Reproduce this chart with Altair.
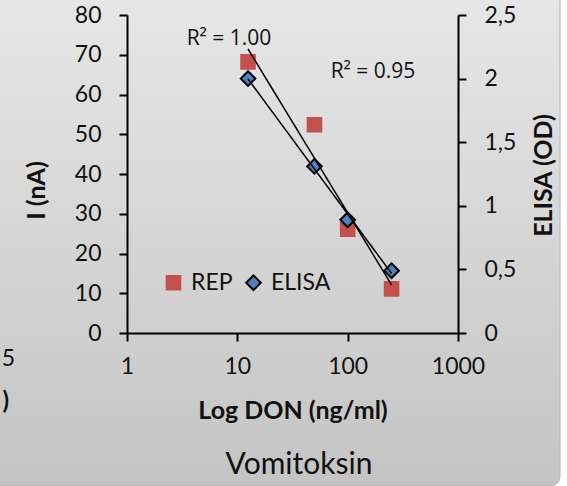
import altair as alt
import numpy as np
import pandas as pd

# DON standards (ng/ml)
don = [12.5, 50, 100, 250]
# REP sensor current (nA), left axis
rep_current = [68.2, 52.4, 26.1, 11.1]
# ELISA optical density, right axis
elisa_od = [2.00, 1.31, 0.89, 0.49]

series_names = ["REP", "ELISA"]
series_fill = ["#c4504d", "#4f81bd"]
series_stroke = ["#c4504d", "#000000"]
series_shape = ["square", "diamond"]
series_size = [185, 215]

x_ticks = [1, 10, 100, 1000]
left_ticks = [0, 10, 20, 30, 40, 50, 60, 70, 80]
right_ticks = [0, 0.5, 1, 1.5, 2, 2.5]

x_title = "Log DON (ng/ml)"
left_title = "I (nA)"
right_title = "ELISA (OD)"
chart_title = "Vomitoksin"

W, H = 331, 318
PAD = {"left": 127, "top": 15, "right": 109, "bottom": 153}
FONT = "Lato"
INK = "#111111"


def r_squared(x, y):
    """R² of a straight-line fit of y against log10(x)."""
    lx = np.log10(np.asarray(x, float))
    y = np.asarray(y, float)
    slope, icpt = np.polyfit(lx, y, 1)
    resid = y - (icpt + slope * lx)
    return 1 - (resid ** 2).sum() / ((y - y.mean()) ** 2).sum()


rep_df = pd.DataFrame({"don": don, "value": rep_current, "series": "REP"})
elisa_df = pd.DataFrame({"don": don, "value": elisa_od, "series": "ELISA"})
one = pd.DataFrame({"k": [0]})

axis_style = dict(
    grid=False, zindex=1, domainColor="black", domainWidth=2,
    tickColor="black", tickWidth=2, tickSize=8,
    labelFont=FONT, labelFontSize=23, labelColor=INK,
    labelFlush=False, labelOverlap=False,
    titleFont=FONT, titleFontSize=25, titleFontWeight="bold", titleColor=INK,
)

x_enc = alt.X(
    "don:Q",
    scale=alt.Scale(type="log", domain=[1, 1000], nice=False),
    axis=alt.Axis(values=x_ticks, format="d", title=x_title, labelPadding=14,
                  titleBaseline="middle", titleY=77, **axis_style),
)

left_scale = alt.Scale(domain=[0, 80], nice=False, zero=True)
right_scale = alt.Scale(domain=[0, 2.5], nice=False, zero=True)

left_axis = alt.Axis(orient="left", values=left_ticks, title=left_title,
                     labelPadding=18, titleAngle=270, titleX=-91, titleY=175,
                     titleAlign="center", titleBaseline="middle", **axis_style)
right_axis = alt.Axis(orient="right", values=right_ticks, title=right_title,
                      labelPadding=18,
                      labelExpr="replace(toString(datum.value), '.', ',')",
                      titleAngle=270, titleX=85, titleY=160,
                      titleAlign="center", titleBaseline="middle", **axis_style)

legend = alt.Legend(
    orient="none", legendX=35, legendY=256, direction="horizontal",
    title=None, padding=0, symbolStrokeWidth=2,
    labelFont=FONT, labelFontSize=23, labelColor=INK,
    labelOffset=6, columnPadding=9,
)
fill_enc = alt.Fill("series:N", scale=alt.Scale(domain=series_names, range=series_fill), legend=legend)
shape_enc = alt.Shape("series:N", scale=alt.Scale(domain=series_names, range=series_shape), legend=legend)
stroke_enc = alt.Stroke("series:N", scale=alt.Scale(domain=series_names, range=series_stroke), legend=legend)
size_enc = alt.Size("series:N", scale=alt.Scale(domain=series_names, range=series_size), legend=legend)

# panel background with a soft vertical gradient
panel = alt.Chart(one).mark_rect(
    fill=alt.LinearGradient(
        gradient="linear",
        stops=[alt.GradientStop(color="#e8e8e8", offset=0),
               alt.GradientStop(color="#c4c4c4", offset=1)],
        x1=0, x2=0, y1=0, y2=1,
    ),
    cornerRadius=10, stroke="#b4b4b4", strokeWidth=1,
).encode(
    x=alt.value(-150), x2=alt.value(560 - PAD["left"]),
    y=alt.value(-40), y2=alt.value(486 - PAD["top"]),
)

point_mark = dict(filled=True, strokeWidth=2, opacity=1)

rep_pts = alt.Chart(rep_df).mark_point(**point_mark).encode(
    x=x_enc, y=alt.Y("value:Q", scale=left_scale, axis=left_axis),
    fill=fill_enc, shape=shape_enc, stroke=stroke_enc, size=size_enc,
)
elisa_pts = alt.Chart(elisa_df).mark_point(**point_mark).encode(
    x=x_enc, y=alt.Y("value:Q", scale=right_scale, axis=right_axis),
    fill=fill_enc, shape=shape_enc, stroke=stroke_enc, size=size_enc,
)

# logarithmic trend lines
rep_fit = alt.Chart(rep_df).transform_regression("don", "value", method="log").mark_line(
    color="black", strokeWidth=1.5
).encode(x=x_enc, y=alt.Y("value:Q", scale=left_scale, axis=None))
elisa_fit = alt.Chart(elisa_df).transform_regression("don", "value", method="log").mark_line(
    color="black", strokeWidth=1.5
).encode(x=x_enc, y=alt.Y("value:Q", scale=right_scale, axis=None))


def label(text, x, y, **kw):
    style = dict(font=FONT, fontSize=20, color=INK, align="center", baseline="middle")
    style.update(kw)
    return alt.Chart(one).mark_text(text=text, **style).encode(
        x=alt.value(x - PAD["left"]), y=alt.value(y - PAD["top"])
    )


r2_elisa = label(f"R² = {r_squared(don, elisa_od):.2f}", 229, 39, font="Open Sans", fontSize=21)
r2_rep = label(f"R² = {r_squared(don, rep_current):.2f}", 373, 72, font="Open Sans", fontSize=21)
title_txt = label(chart_title, 299, 465, fontSize=30)
# edge of the neighbouring panel on the left
edge_tick = label("5", 15, 359, fontSize=23, align="right")
edge_title = label(")", 9, 402, fontSize=24, fontWeight="bold", align="right")

chart = alt.layer(
    panel, rep_pts, elisa_pts, rep_fit, elisa_fit,
    r2_elisa, r2_rep, title_txt, edge_tick, edge_title,
).resolve_scale(y="independent").properties(
    width=W, height=H, padding=PAD,
    autosize=alt.AutoSizeParams(type="none"),
    background="#ffffff",
).configure_view(strokeWidth=0)

chart.save("out.html", embed_options={"renderer": "svg", "actions": False})
